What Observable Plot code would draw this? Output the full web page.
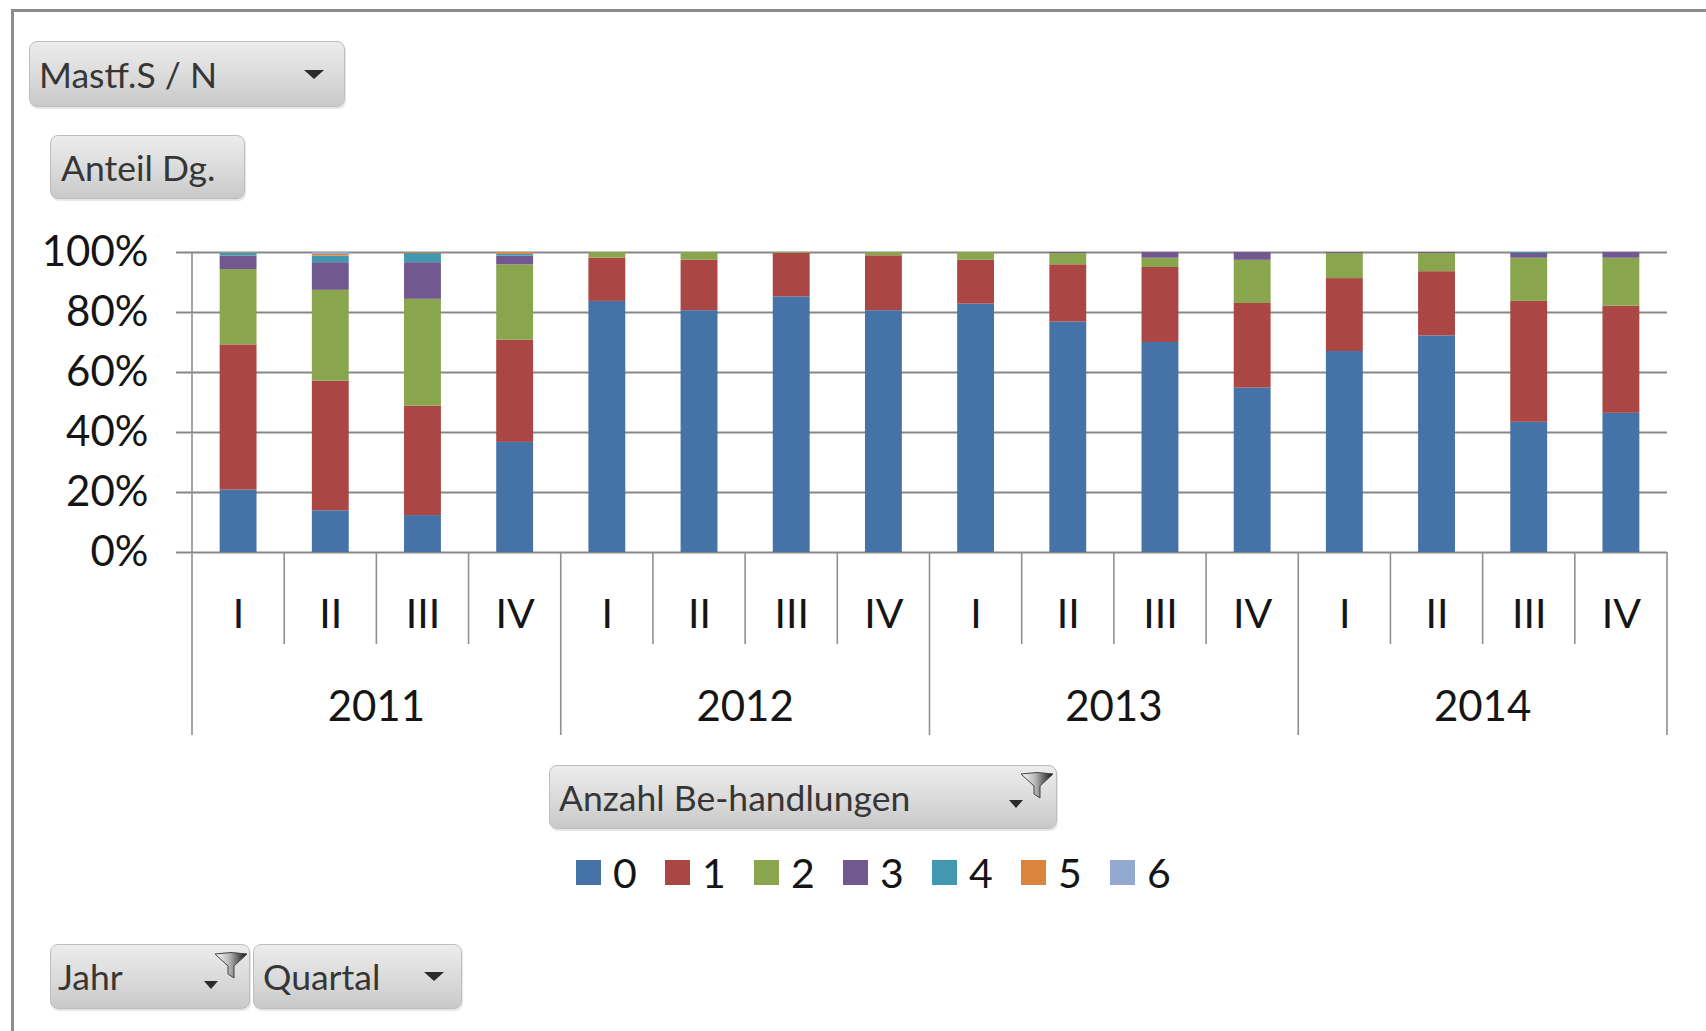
<!DOCTYPE html>
<html><head><meta charset="utf-8">
<script src="https://cdn.jsdelivr.net/npm/d3@7"></script>
<script src="https://cdn.jsdelivr.net/npm/@observablehq/plot@0.6"></script>
<style>
body{margin:0;background:#fff;}
#root{position:relative;width:1706px;height:1031px;overflow:hidden;background:#fff;font-family:Lato,"Open Sans",sans-serif;}
#frame{position:absolute;left:11px;top:9px;width:2000px;height:2000px;border:3px solid #8c8c8c;box-sizing:border-box;}
#chart{position:absolute;left:0;top:0;}
.btn{position:absolute;box-sizing:border-box;border:1px solid #bdbdbd;border-radius:8px;background:linear-gradient(#ececec,#dadada 55%,#c9c9c9);box-shadow:1px 2px 1px rgba(0,0,0,.10);display:flex;align-items:center;font-size:35.5px;color:#363636;white-space:nowrap;}
.tri{position:absolute;width:0;height:0;border-left:10px solid transparent;border-right:10px solid transparent;border-top:9px solid #2b2b2b;}
.tri.s{border-left-width:7px;border-right-width:7px;border-top-width:8px;}
.fun{position:absolute;}
#legend{position:absolute;left:576px;top:850px;display:flex;}
.li{width:89px;display:flex;align-items:center;height:44px;font-size:41px;color:#151515;}
.sw{width:25px;height:25px;margin-right:12px;flex:none;}
</style></head>
<body><div id="root">
<div id="frame"></div>
<div id="chart"></div>

<div class="btn" style="left:29px;top:41px;width:316px;height:66px;padding-left:9px;">Mastf.S / N<div class="tri" style="left:274px;top:28px;"></div></div>
<div class="btn" style="left:50px;top:135px;width:195px;height:64px;padding-left:10px;">Anteil Dg.</div>

<div class="btn" style="left:549px;top:765px;width:508px;height:64px;padding-left:9px;">Anzahl Be-handlungen
  <div class="tri s" style="left:459px;top:34px;"></div>
  <svg class="fun" style="left:470px;top:6px;" width="34" height="27" viewBox="0 0 34 27"><defs><linearGradient id="fg" x1="0" x2="1"><stop offset="0" stop-color="#ffffff"/><stop offset="0.45" stop-color="#b5b5b5"/><stop offset="1" stop-color="#111"/></linearGradient></defs><path d="M1,2 Q17,-1 33,2 L20,14 L20,26 L14,22 L14,14 Z" fill="url(#fg)" stroke="#444" stroke-width="1"/></svg>
</div>

<div class="btn" style="left:50px;top:944px;width:200px;height:65px;padding-left:7px;">Jahr
  <div class="tri s" style="left:153px;top:36px;"></div>
  <svg class="fun" style="left:163px;top:7px;" width="34" height="27" viewBox="0 0 34 27"><path d="M1,2 Q17,-1 33,2 L20,14 L20,26 L14,22 L14,14 Z" fill="url(#fg)" stroke="#444" stroke-width="1"/></svg>
</div>
<div class="btn" style="left:253px;top:944px;width:209px;height:65px;padding-left:9px;">Quartal<div class="tri" style="left:170px;top:27px;"></div></div>

<div id="legend"></div>
</div>
<script>
// ---- data ----
const years = ["2011", "2012", "2013", "2014"];
const quarters = ["I", "II", "III", "IV"];
const series = ["0", "1", "2", "3", "4", "5", "6"];
const colors = ["#4572A7", "#AA4643", "#89A54E", "#71588F", "#4198AF", "#DB843D", "#93A9CF"];

// share (%) per quarter, 2011 I ... 2014 IV
const s0 = [20.8, 13.9, 12.3, 36.7, 83.7, 80.6, 85.2, 80.6, 82.8, 76.8, 70.0, 54.8, 67.0, 72.2, 43.4, 46.4];
const s1 = [48.4, 43.2, 36.5, 34.1, 14.4, 16.8, 14.5, 18.3, 14.6, 19.1, 25.0, 28.2, 24.3, 21.4, 40.3, 35.7];
const s2 = [25.1, 30.3, 35.6, 25.1, 1.9, 2.6, 0.3, 1.1, 2.6, 3.8, 3.1, 14.4, 8.4, 6.1, 14.4, 16.0];
const s3 = [4.5, 9.2, 12.2, 2.9, 0, 0, 0, 0, 0, 0.3, 1.9, 2.6, 0.3, 0.3, 1.6, 1.9];
const s4 = [0.9, 2.2, 3.1, 0.6, 0, 0, 0, 0, 0, 0, 0, 0, 0, 0, 0.3, 0];
const s5 = [0.2, 0.6, 0.3, 0.6, 0, 0, 0, 0, 0, 0, 0, 0, 0, 0, 0, 0];
const s6 = [0.1, 0.6, 0, 0, 0, 0, 0, 0, 0, 0, 0, 0, 0, 0, 0, 0];
const yTicks = [0, 0.2, 0.4, 0.6, 0.8, 1];

// ---- build ----
const values = [s0, s1, s2, s3, s4, s5, s6];
const keys = years.flatMap(y => quarters.map(q => `${y} ${q}`));
const rows = series.flatMap((s, si) => keys.map((k, i) => ({key: k, series: s, value: values[si][i] / 100})));

const plot = Plot.plot({
  width: 1706, height: 1031,
  marginLeft: 192, marginRight: 39, marginTop: 252, marginBottom: 479,
  style: {fontFamily: "Lato, 'Open Sans', sans-serif", fontSize: "42px", color: "#151515", background: "transparent", overflow: "visible"},
  x: {type: "band", domain: keys, paddingInner: 0.6, paddingOuter: 0.3, round: false, label: null},
  y: {domain: [0, 1], label: null},
  color: {type: "ordinal", domain: series, range: colors},
  marks: [
    Plot.gridY(yTicks, {stroke: "#878787", strokeOpacity: 1, strokeWidth: 2}),
    Plot.barY(rows, {x: "key", y: "value", fill: "series"}),
    Plot.axisY(yTicks, {tickSize: 16, tickPadding: 28, tickFormat: d3.format(".0%"), stroke: "#878787", strokeWidth: 2, fill: "#151515", fontSize: 42, label: null}),
    Plot.axisX({anchor: "bottom", tickSize: 0, tickPadding: 46, tickFormat: k => k.split(" ")[1], fill: "#151515", fontSize: 41, label: null})
  ]
});
document.getElementById("chart").appendChild(plot);

// two-level category axis separators and year labels, from Plot's scales
const xs = plot.scale("x"), ys = plot.scale("y");
const centers = keys.map(k => xs.apply(k) + xs.bandwidth / 2);
const step = centers[1] - centers[0];
const yZero = ys.apply(0), yTop = ys.apply(1);
const g = d3.select(plot).append("g").attr("stroke", "#8f8f8f").attr("stroke-width", 1.6);
const bounds = keys.map((k, i) => centers[i] - step / 2).concat([centers[keys.length - 1] + step / 2]);
bounds.forEach((xb, i) => {
  const isYear = i % 4 === 0;
  g.append("line").attr("x1", xb).attr("x2", xb)
    .attr("y1", i === 0 ? yTop : yZero).attr("y2", isYear ? 735 : 644);
});
const gt = d3.select(plot).append("g").attr("font-size", 42).attr("fill", "#151515").attr("text-anchor", "middle");
years.forEach((yr, j) => {
  gt.append("text").attr("x", (centers[j * 4] + centers[j * 4 + 3]) / 2).attr("y", 721).text(yr);
});

// legend
const lg = d3.select("#legend");
series.forEach((s, i) => {
  const item = lg.append("div").attr("class", "li");
  item.append("div").attr("class", "sw").style("background", colors[i]);
  item.append("span").text(s);
});
</script>
</body></html>
